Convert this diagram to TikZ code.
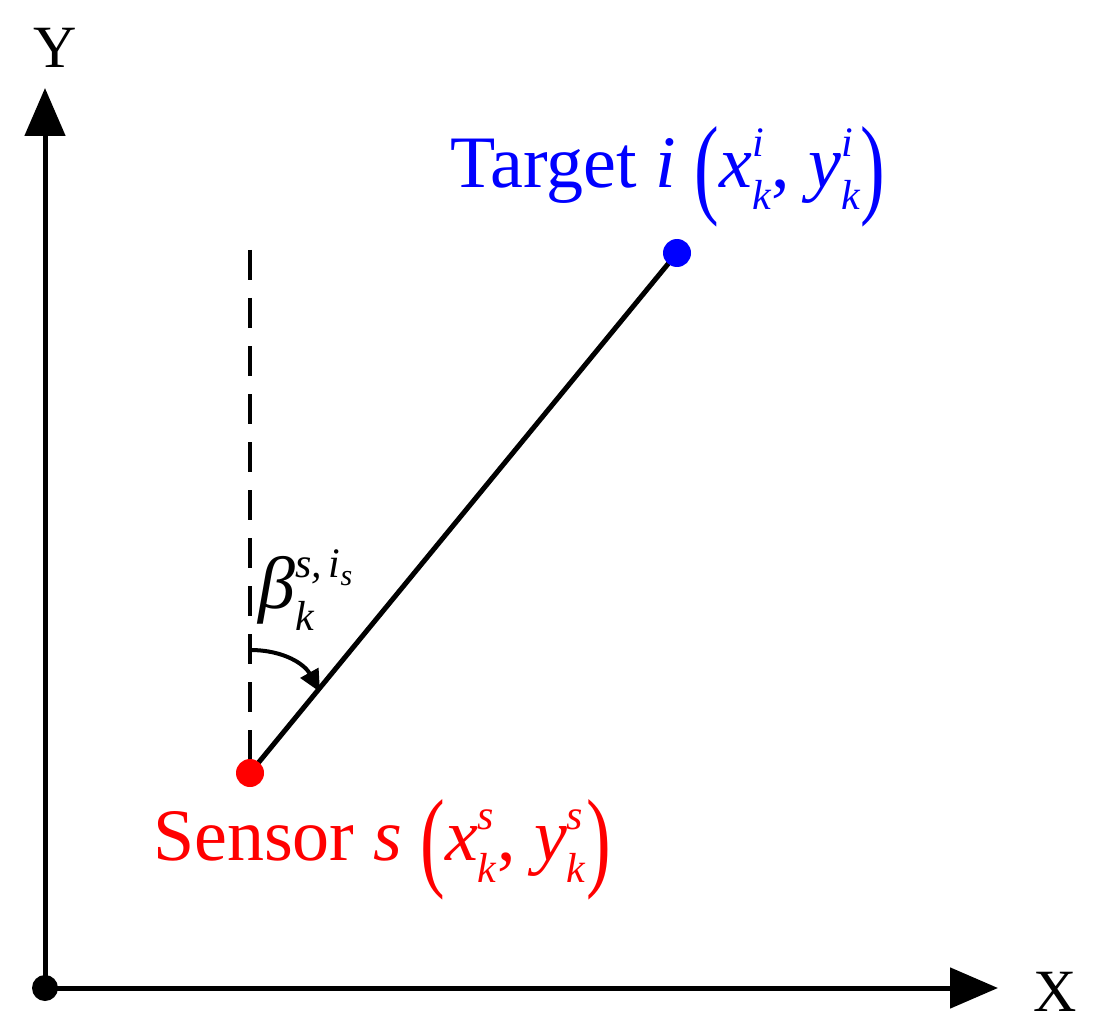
\documentclass[tikz,border=0pt]{standalone}
\usepackage{fontspec}
\usepackage{graphicx}
\setmainfont{Liberation Serif}
\usetikzlibrary{arrows.meta}
\newcommand{\ti}[1]{\textit{#1}}
\newcommand{\scr}[2]{\rlap{\raisebox{0.42em}{\fontsize{42}{42}\selectfont\ti{#1}}}\raisebox{-0.3em}{\fontsize{42}{42}\selectfont\ti{#2}}}
\newcommand{\bigp}[1]{\raisebox{-0.22em}{\scalebox{1}[1.5]{#1}}}
\begin{document}
\begin{tikzpicture}[x=1pt,y=-1pt,
  ax/.style={line width=5pt,-{Triangle[length=48pt,width=40pt]}},
  lbl/.style={font=\fontsize{60}{70}\selectfont,inner sep=0pt},
  big/.style={font=\fontsize{74}{80}\selectfont,inner sep=0pt}]
\useasboundingbox (0,0) rectangle (1101,1035);
\coordinate (O) at (45,988);
\coordinate (XE) at (998,988);
\coordinate (YE) at (45,88);
\draw[ax] (O) -- (XE);
\draw[ax] (O) -- (YE);
\fill (O) circle (13);
\node[lbl] (Y) at (55,48) {Y};
\node[lbl] (X) at (1055,992) {X};
\coordinate (dtop) at (250,250);
\coordinate (S) at (250,773);
\coordinate (T) at (677,253);
\draw[line width=4pt,dash pattern=on 30pt off 18pt] (dtop) -- (S);
\draw[line width=5pt] (S) -- (T);
\fill[red] (S) circle (14);
\fill[blue] (T) circle (14);
\coordinate (a1) at (250,650);
\coordinate (a2) at (320,692);
\draw[line width=4pt,-{Triangle[length=22pt,width=20pt]}] (a1) .. controls (285,650) and (305,665) .. (a2);
\node[big,anchor=west] (beta) at (258,590) {\ti{β}\scr{s,\,i\raisebox{-0.2em}{\fontsize{30}{30}\selectfont s}}{k}};
\node[big,text=blue] (tl) at (668,177) {Target \ti{i} \bigp{(}\ti{x}\scr{i}{k}, \ti{y}\scr{i}{k}\bigp{)}};
\node[big,text=red] (sl) at (382,850) {Sensor \ti{s} \bigp{(}\ti{x}\scr{s}{k}, \ti{y}\scr{s}{k}\bigp{)}};
\end{tikzpicture}
\end{document}
